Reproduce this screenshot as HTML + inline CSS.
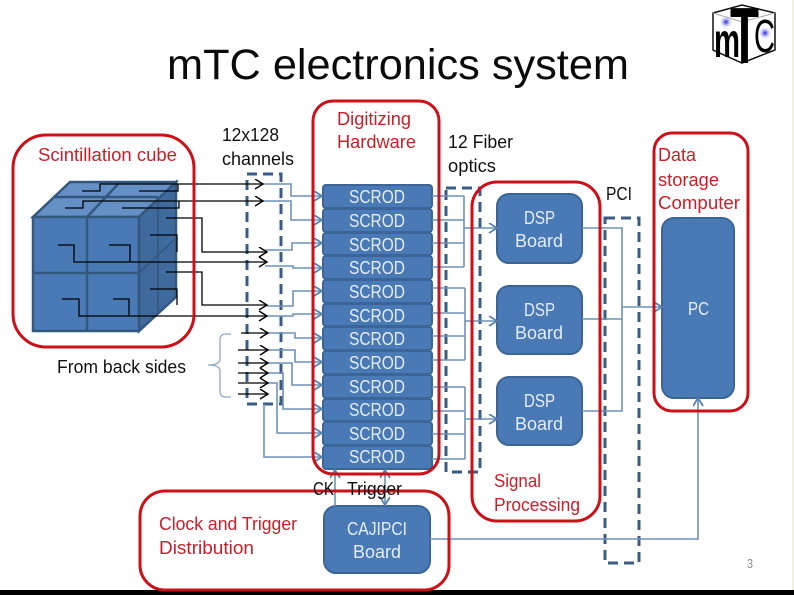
<!DOCTYPE html>
<html><head><meta charset="utf-8">
<style>
html,body{margin:0;padding:0;background:#fff}
svg{display:block}
text{font-family:"Liberation Sans",sans-serif}
.r{fill:#c8202a;font-size:18.5px}
.k{fill:#111;font-size:18.5px}
.w{fill:#e4edf7;font-size:18.5px}
.rb{fill:none;stroke:#cc1018;stroke-width:3}
.dash{fill:none;stroke:#3a5c84;stroke-width:3;stroke-dasharray:10 6}
.bx{fill:#4a7ab5;stroke:#3a6596;stroke-width:2}
.bl{fill:none;stroke:#6f92b8;stroke-width:1.6}
.bk{fill:none;stroke:#000;stroke-width:1.3}
.cube{fill:#4a7ab5;stroke:#33587f;stroke-width:2.5}
</style></head><body>
<svg width="794" height="595" viewBox="0 0 794 595" xmlns="http://www.w3.org/2000/svg">
<defs>
<marker id="ab" markerWidth="12" markerHeight="12" refX="9" refY="5" orient="auto" markerUnits="userSpaceOnUse"><path d="M1 0L9 5L1 10" fill="none" stroke="#5a82b0" stroke-width="1.8"/></marker>
<marker id="as" markerWidth="12" markerHeight="12" refX="9" refY="5" orient="auto-start-reverse" markerUnits="userSpaceOnUse"><path d="M1 0L9 5L1 10" fill="none" stroke="#5a82b0" stroke-width="1.8"/></marker>
<marker id="ak" markerWidth="12" markerHeight="12" refX="9" refY="5" orient="auto" markerUnits="userSpaceOnUse"><path d="M1 0L9 5L1 10" fill="none" stroke="#000" stroke-width="1.4"/></marker>
<radialGradient id="star"><stop offset="0" stop-color="#1a22d8"/><stop offset="1" stop-color="#fff" stop-opacity="0"/></radialGradient>
</defs>
<rect width="794" height="595" fill="#fff"/>
<rect x="792" y="0" width="2" height="595" fill="#f3efe0"/>
<rect x="0" y="590" width="794" height="5" fill="#000"/>

<!-- title -->
<text x="167" y="79" font-size="43" fill="#0a0a0a" textLength="462" lengthAdjust="spacingAndGlyphs">mTC electronics system</text>

<!-- logo -->
<path d="M713 13L742 5L775 13L775 50L742 63L713 50Z" fill="#fff" stroke="#111" stroke-width="1.5"/>
<path d="M713 13L742 22L775 13M742 22V63" fill="none" stroke="#aaa" stroke-width="1"/>
<circle cx="726" cy="22" r="7" fill="url(#star)"/><circle cx="765" cy="33" r="7" fill="url(#star)"/>
<text x="714" y="57" font-size="48" font-weight="bold" fill="#000" textLength="26" lengthAdjust="spacingAndGlyphs">m</text>
<text x="730" y="63" font-size="80" font-weight="bold" fill="#000" textLength="29" lengthAdjust="spacingAndGlyphs">T</text>
<text x="754" y="52" font-size="46" fill="#000" textLength="21" lengthAdjust="spacingAndGlyphs">C</text>

<!-- cube -->
<g>
<path class="cube" d="M70 182H176L139 217H33Z" style="fill:#6590c6"/>
<path class="cube" d="M139 217L176 182V297L139 331Z" style="fill:#3f6a9e"/>
<rect class="cube" x="33" y="217" width="106" height="114"/>
<path d="M87 217V331M33 273H139" stroke="#33587f" stroke-width="2.5" fill="none"/>
<path d="M53 197H158M120 182L87 217" stroke="#33587f" stroke-width="2.5" fill="none"/>
<path d="M158 199V314M139 273L176 238" stroke="#33587f" stroke-width="1.5" fill="none"/>
</g>

<!-- dashed groups -->
<rect class="dash" x="247" y="174" width="34" height="230"/>
<rect class="dash" x="446" y="188" width="34" height="284"/>
<rect class="dash" x="605" y="218" width="34" height="345"/>

<!-- SCROD -->
<g>
<rect class="bx" x="323" y="185" width="109" height="23" rx="3"/>
<rect class="bx" x="323" y="209" width="109" height="23" rx="3"/>
<rect class="bx" x="323" y="233" width="109" height="22" rx="3"/>
<rect class="bx" x="323" y="256" width="109" height="23" rx="3"/>
<rect class="bx" x="323" y="280" width="109" height="23" rx="3"/>
<rect class="bx" x="323" y="304" width="109" height="22" rx="3"/>
<rect class="bx" x="323" y="327" width="109" height="23" rx="3"/>
<rect class="bx" x="323" y="351" width="109" height="23" rx="3"/>
<rect class="bx" x="323" y="375" width="109" height="23" rx="3"/>
<rect class="bx" x="323" y="399" width="109" height="22" rx="3"/>
<rect class="bx" x="323" y="422" width="109" height="23" rx="3"/>
<rect class="bx" x="323" y="446" width="109" height="23" rx="3"/>
<text class="w" x="349" y="203" textLength="56" lengthAdjust="spacingAndGlyphs">SCROD</text>
<text class="w" x="349" y="227" textLength="56" lengthAdjust="spacingAndGlyphs">SCROD</text>
<text class="w" x="349" y="251" textLength="56" lengthAdjust="spacingAndGlyphs">SCROD</text>
<text class="w" x="349" y="274" textLength="56" lengthAdjust="spacingAndGlyphs">SCROD</text>
<text class="w" x="349" y="298" textLength="56" lengthAdjust="spacingAndGlyphs">SCROD</text>
<text class="w" x="349" y="322" textLength="56" lengthAdjust="spacingAndGlyphs">SCROD</text>
<text class="w" x="349" y="345" textLength="56" lengthAdjust="spacingAndGlyphs">SCROD</text>
<text class="w" x="349" y="369" textLength="56" lengthAdjust="spacingAndGlyphs">SCROD</text>
<text class="w" x="349" y="393" textLength="56" lengthAdjust="spacingAndGlyphs">SCROD</text>
<text class="w" x="349" y="416" textLength="56" lengthAdjust="spacingAndGlyphs">SCROD</text>
<text class="w" x="349" y="440" textLength="56" lengthAdjust="spacingAndGlyphs">SCROD</text>
<text class="w" x="349" y="463" textLength="56" lengthAdjust="spacingAndGlyphs">SCROD</text>
</g>

<!-- DSP / PC / CAJI -->
<rect class="bx" x="497" y="194" width="85" height="69" rx="12"/>
<rect class="bx" x="497" y="286" width="85" height="68" rx="12"/>
<rect class="bx" x="497" y="377" width="85" height="68" rx="12"/>
<rect class="bx" x="662" y="218" width="72" height="180" rx="12"/>
<rect class="bx" x="324" y="506" width="106" height="67" rx="12"/>
<text class="w" x="524" y="224" textLength="31" lengthAdjust="spacingAndGlyphs">DSP</text>
<text class="w" x="515" y="247" textLength="48" lengthAdjust="spacingAndGlyphs">Board</text>
<text class="w" x="524" y="316" textLength="31" lengthAdjust="spacingAndGlyphs">DSP</text>
<text class="w" x="515" y="339" textLength="48" lengthAdjust="spacingAndGlyphs">Board</text>
<text class="w" x="524" y="407" textLength="31" lengthAdjust="spacingAndGlyphs">DSP</text>
<text class="w" x="515" y="430" textLength="48" lengthAdjust="spacingAndGlyphs">Board</text>
<text class="w" x="688" y="315" textLength="21" lengthAdjust="spacingAndGlyphs">PC</text>
<text class="w" x="347" y="535" textLength="60" lengthAdjust="spacingAndGlyphs">CAJIPCI</text>
<text class="w" x="353" y="558" textLength="48" lengthAdjust="spacingAndGlyphs">Board</text>

<!-- blue links left -->
<path class="bl" marker-end="url(#ab)" d="M263 184H291V196H322"/>
<path class="bl" marker-end="url(#ab)" d="M263 201H291V220H322"/>
<path class="bl" marker-end="url(#ab)" d="M265 250H292V243H322"/>
<path class="bl" marker-end="url(#ab)" d="M265 266H293V268H322"/>
<path class="bl" marker-end="url(#ab)" d="M267 306H293V291H322"/>
<path class="bl" marker-end="url(#ab)" d="M267 316H293V314H322"/>
<path class="bl" marker-end="url(#ab)" d="M267 333H295V338H322"/>
<path class="bl" marker-end="url(#ab)" d="M267 350H295V362H322"/>
<path class="bl" marker-end="url(#ab)" d="M267 363H292V385H322"/>
<path class="bl" marker-end="url(#ab)" d="M267 373H283V409H322"/>
<path class="bl" marker-end="url(#ab)" d="M267 383H277V433H322"/>
<path class="bl" marker-end="url(#ab)" d="M264 404V457H322"/>

<!-- black wires -->
<path class="bk" marker-end="url(#ak)" d="M82 191H100V184H263"/>
<path class="bk" d="M139 191H178V184"/>
<path class="bk" marker-end="url(#ak)" d="M65 208H83V201H263"/>
<path class="bk" d="M122 208H179V201"/>
<path class="bk" marker-end="url(#ak)" d="M166 218H202V252H267"/>
<path class="bk" d="M150 235H177V252"/>
<path class="bk" marker-end="url(#ak)" d="M58 245H74V262H267"/>
<path class="bk" d="M109 245H130V262"/>
<path class="bk" marker-end="url(#ak)" d="M166 272H202V305H267"/>
<path class="bk" d="M150 289H177V305"/>
<path class="bk" marker-end="url(#ak)" d="M62 299H79V316H267"/>
<path class="bk" d="M113 299H129V316"/>
<path class="bk" marker-end="url(#ak)" d="M241 333H268"/>
<path class="bk" marker-end="url(#ak)" d="M238 350H268"/>
<path class="bk" marker-end="url(#ak)" d="M238 363H268"/>
<path class="bk" marker-end="url(#ak)" d="M238 373H268"/>
<path class="bk" marker-end="url(#ak)" d="M238 383H268"/>
<path class="bk" marker-end="url(#ak)" d="M238 394H268"/>

<!-- brace -->
<path d="M231 334H226Q220 334 220 340V359Q220 365 208 365Q220 365 220 371V391Q220 397 226 397H231" fill="none" stroke="#8fa9c7" stroke-width="1.3"/>

<!-- fibers -->
<path class="bl" d="M432 196H464M432 220H464M432 243H464M432 267H464M464 196V267"/>
<path class="bl" marker-end="url(#ab)" d="M464 228H497"/>
<path class="bl" d="M432 288H465M432 313H465M432 336H465M432 360H465M465 288V360"/>
<path class="bl" marker-end="url(#ab)" d="M465 321H497"/>
<path class="bl" d="M432 387H465M432 411H465M432 434H465M432 459H465M465 387V459"/>
<path class="bl" marker-end="url(#ab)" d="M465 419H497"/>
<path class="bl" d="M582 228H622V411H582M582 319H622"/>
<path class="bl" marker-end="url(#ab)" d="M622 307H662"/>
<path class="bl" marker-end="url(#ab)" d="M430 539H698V398"/>
<path class="bl" marker-end="url(#ab)" d="M335 506V470"/>
<path class="bl" marker-end="url(#as)" marker-start="url(#as)" d="M385 470V505"/>

<!-- red boxes -->
<rect class="rb" x="13" y="135" width="181" height="212" rx="33"/>
<rect class="rb" x="313" y="101" width="126" height="373" rx="20"/>
<rect class="rb" x="472" y="182" width="128" height="339" rx="25"/>
<rect class="rb" x="654" y="133" width="94" height="278" rx="18"/>
<rect class="rb" x="140" y="491" width="309" height="99" rx="25"/>

<!-- labels -->
<text class="r" x="38" y="161" textLength="139" lengthAdjust="spacingAndGlyphs">Scintillation cube</text>
<text class="k" x="222" y="141" textLength="57" lengthAdjust="spacingAndGlyphs">12x128</text>
<text class="k" x="222" y="165" textLength="72" lengthAdjust="spacingAndGlyphs">channels</text>
<text class="r" x="337" y="125" textLength="74" lengthAdjust="spacingAndGlyphs">Digitizing</text>
<text class="r" x="337" y="148" textLength="79" lengthAdjust="spacingAndGlyphs">Hardware</text>
<text class="k" x="448" y="148" textLength="65" lengthAdjust="spacingAndGlyphs">12 Fiber</text>
<text class="k" x="448" y="172" textLength="48" lengthAdjust="spacingAndGlyphs">optics</text>
<text class="k" x="606" y="200" textLength="26" lengthAdjust="spacingAndGlyphs">PCI</text>
<text class="r" x="658" y="161" textLength="38" lengthAdjust="spacingAndGlyphs">Data</text>
<text class="r" x="658" y="186" textLength="61" lengthAdjust="spacingAndGlyphs">storage</text>
<text class="r" x="658" y="209" textLength="82" lengthAdjust="spacingAndGlyphs">Computer</text>
<text class="k" x="57" y="373" textLength="129" lengthAdjust="spacingAndGlyphs">From back sides</text>
<text class="r" x="494" y="487" textLength="47" lengthAdjust="spacingAndGlyphs">Signal</text>
<text class="r" x="494" y="511" textLength="86" lengthAdjust="spacingAndGlyphs">Processing</text>
<text class="k" x="313" y="495" textLength="21" lengthAdjust="spacingAndGlyphs">CK</text>
<text class="k" x="347" y="495" textLength="55" lengthAdjust="spacingAndGlyphs">Trigger</text>
<text class="r" x="159" y="530" textLength="138" lengthAdjust="spacingAndGlyphs">Clock and Trigger</text>
<text class="r" x="159" y="554" textLength="95" lengthAdjust="spacingAndGlyphs">Distribution</text>
<text x="747" y="568" font-size="13" fill="#8a8a8a" textLength="6" lengthAdjust="spacingAndGlyphs">3</text>
</svg>
</body></html>
